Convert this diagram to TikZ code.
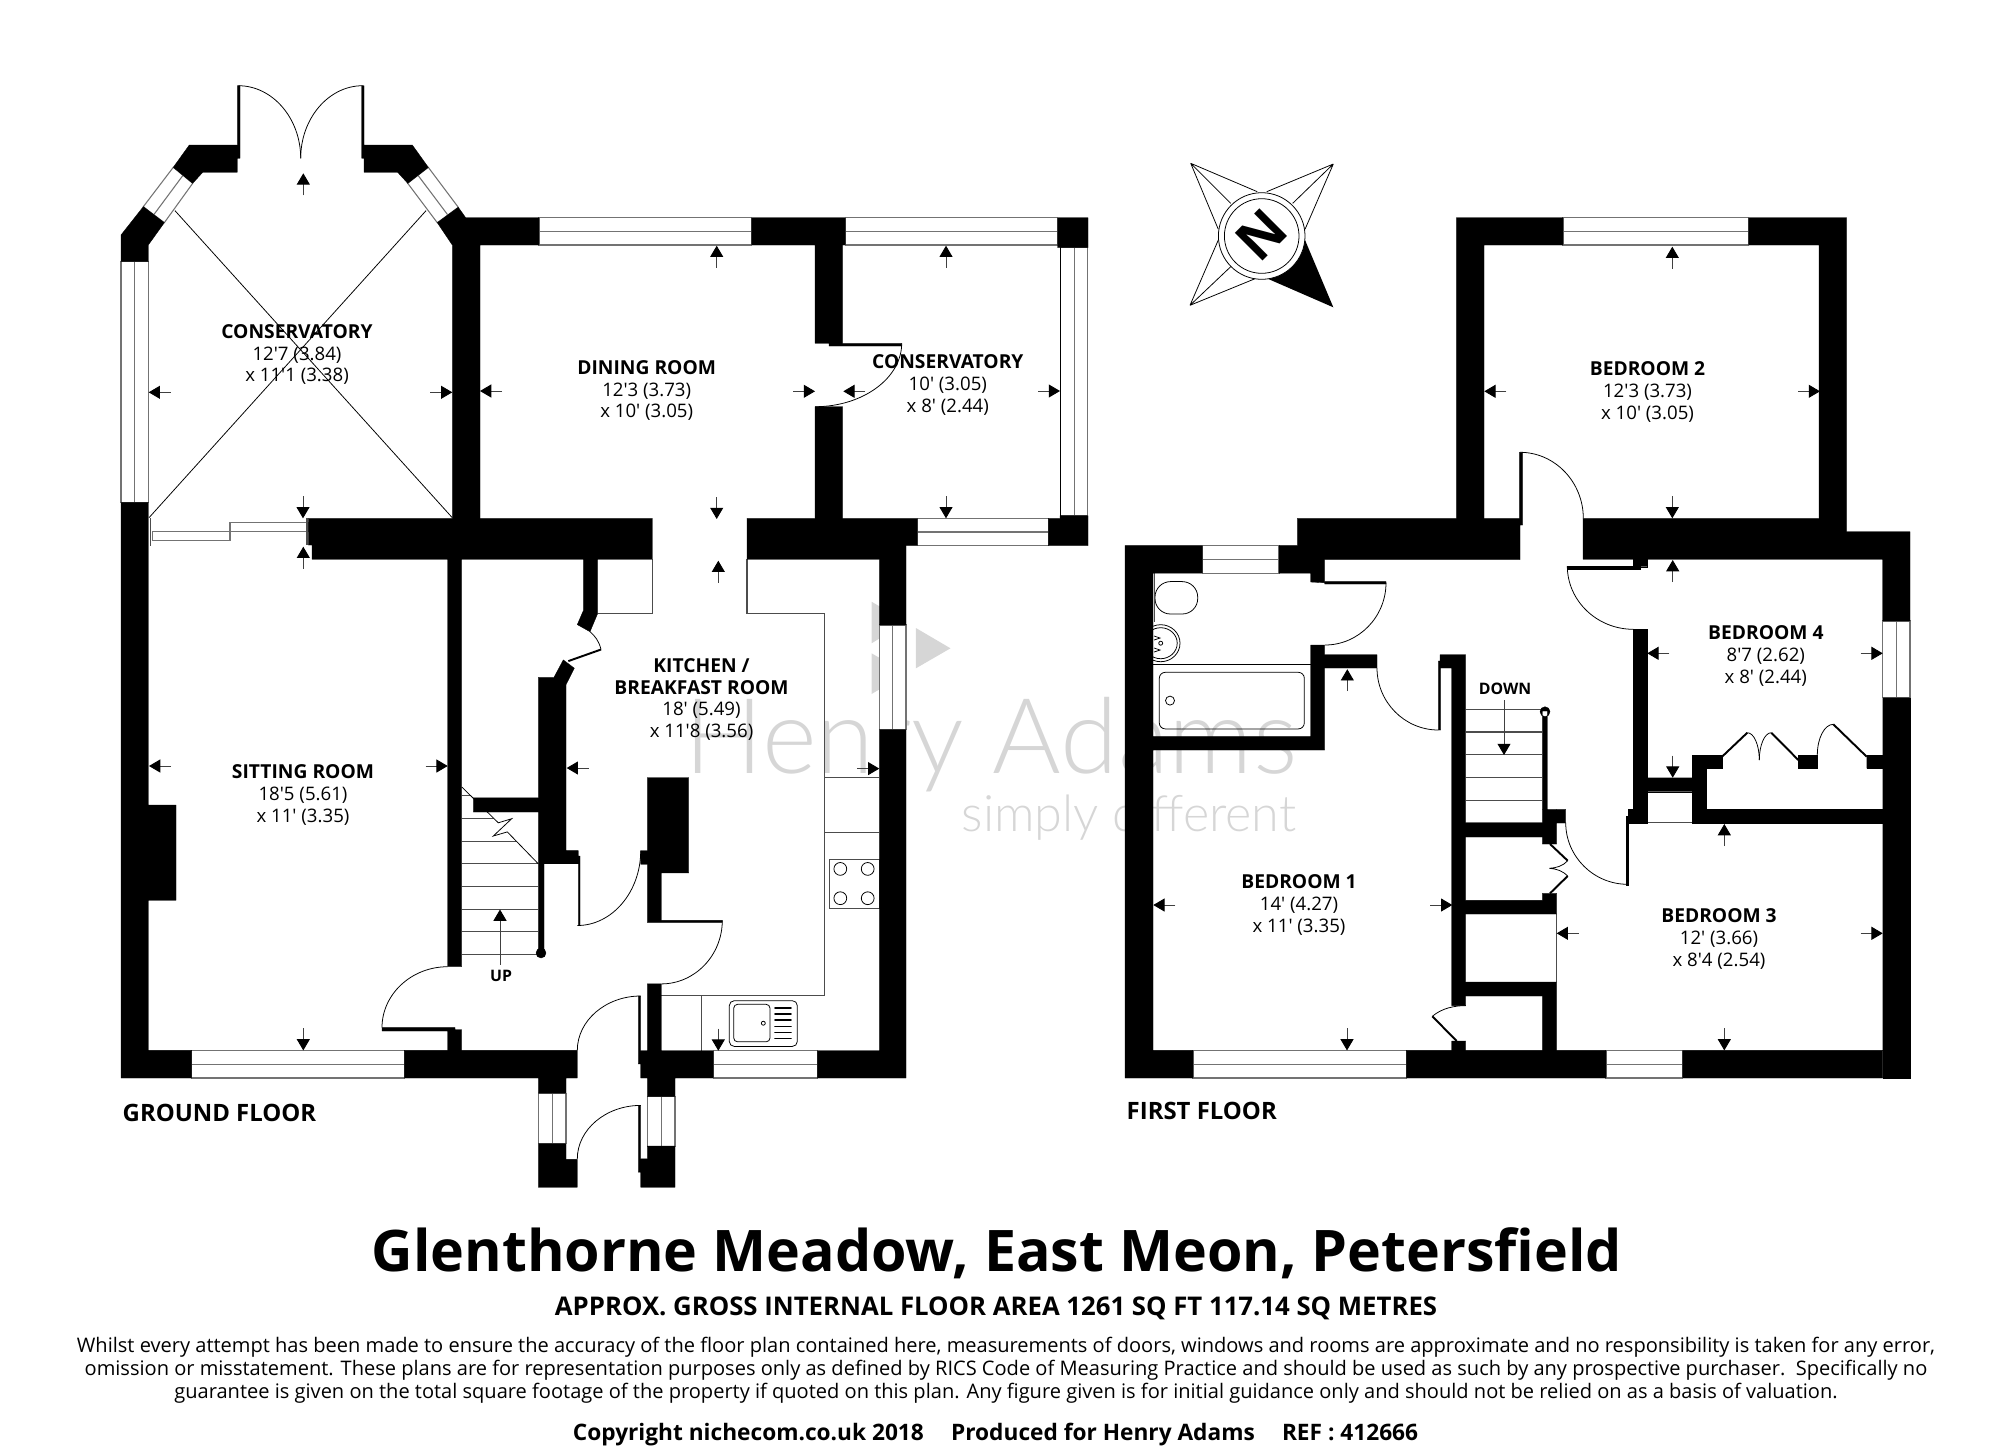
\documentclass[tikz,border=0pt]{standalone}
\usepackage{fontspec}
\setmainfont{Open Sans}[Ligatures=TeXOff]
\newfontfamily\markfont{Lato Light}
\usetikzlibrary{
	arrows.meta,
}
\definecolor{markgray}{HTML}{D6D6D6}
\tikzset{
	wall/.style={fill=black,draw=black,line width=.1pt},
	glass/.style={draw=black!55,fill=white,line width=.3pt},
	pane/.style={draw=black!55,line width=.35pt},
	fine/.style={draw=black,line width=.22pt},
	unit/.style={draw=black!70,line width=.3pt},
	leaf/.style={draw=black,line width=.55pt},
	dimarrow/.style={draw=black!75,line width=.25pt,-{Triangle[width=3.7pt,length=3.2pt,black]}},
	room/.style={align=center,inner sep=0pt,font=\fontsize{5.3}{6.25}\selectfont},
	floorname/.style={anchor=west,inner sep=0pt,font=\fontsize{6.8}{8}\selectfont\bfseries},
	stairname/.style={inner sep=0pt,font=\fontsize{4.5}{5}\selectfont\bfseries},
}
\newcommand{\swing}[4]{\draw[fine] (#1,#2) .. controls (#1,{#2+.55*(#4-#2)}) and ({#3+.55*(#1-#3)},#4) .. (#3,#4);}
\newcommand{\rname}[1]{{\fontsize{5.47}{6.25}\selectfont\bfseries #1}}
\begin{document}
\begin{tikzpicture}[x=.01cm,y=-.01cm]
\useasboundingbox (0,0) rectangle (2000,1448);

% watermark
\fill[markgray] (871.6,601.7) -- (906.3,622) -- (871.6,643.3) -- cycle
	(871.6,653.3) -- (906.3,673.3) -- (871.6,694) -- cycle
	(915.9,628) -- (950.5,648.3) -- (915.9,668.3) -- cycle;
\node[anchor=base west,inner sep=0pt,text=markgray,font=\fontsize{29.8}{30}\markfont] (markname) at (684,773) {Henry Adams};
\node[anchor=base east,inner sep=0pt,text=markgray,font=\fontsize{14.3}{15}\markfont] (marktag) at (1297,831.7) {simply different};

% fittings
\draw[fine] (175,210.7) -- (452.3,517.7) (426,210.7) -- (149,517.7);
\draw[unit] (747,559.3) -- (747,613.3) -- (824.5,613.3) -- (824.5,995.7) -- (661.3,995.7)
	(652.3,559.3) -- (652.3,613.3) -- (597.7,613.3)
	(824.5,777.5) -- (879.3,777.5) (824.5,832.1) -- (879.3,832.1)
	(701.7,995.7) -- (701.7,1050.7)
	(829.3,859.6) rectangle (879.3,908.9);
\foreach \x/\y in {840.3/868.9,867.7/868.9,840.3/898.2,867.7/898.2}
	\draw[fine] (\x,\y) circle[radius=6.4];
\draw[fine,rounded corners=1.4pt] (729.3,1000.7) rectangle (797.3,1046.4);
\draw[fine,rounded corners=1.1pt] (733.7,1004.3) rectangle (770,1041.8);
\draw[fine] (763.3,1023.2) circle[radius=2];
\foreach \y in {1007.9,1013.9,1020,1026.4,1032.5,1038.6}
	\draw[line width=.45pt,line cap=round] (775,\y) -- (791,\y);
\foreach \y in {795.9,818.7,841.5,863.8,886.7,909.5,931.8,954.6}
	\draw[unit] (461.7,\y) -- (538.3,\y);
\fill[white] (462,787.2) -- (498.3,822.8) -- (511.7,818.7) -- (493.3,836) -- (507.3,831.9) -- (538.3,863.8) -- (538.3,780) -- cycle;
\draw[fine] (462,787.2) -- (498.3,822.8) -- (511.7,818.7) -- (493.3,836) -- (507.3,831.9) -- (538.3,863.8);
\foreach \y in {709.4,732,754.5,777.5,800.5}
	\draw[unit] (1465.7,\y) -- (1542.3,\y);
\draw[fine,rounded corners=1.7pt] (1159.3,672.3) rectangle (1304.3,728.9);
\draw[fine] (1170,700.6) circle[radius=4.5];
\draw[fine] (1153,664.6) -- (1310.7,664.6);
\draw[fine,rounded corners=4.4pt] (1155,581.6) rectangle (1197.7,614);
\draw[unit] (1154.5,568) -- (1154.5,622);
\draw[fine] (1160.7,643.2) circle[x radius=19.3,y radius=18.5] (1160.7,643.2) circle[x radius=16.5,y radius=15.5]
	(1160.7,643.2) circle[radius=2]
	(1154,636) -- (1160,638) -- (1154,640) (1154,648) -- (1160,650) -- (1154,652);
\draw[unit] (1556.7,914) -- (1556.7,982) (1647.3,822.7) -- (1692,822.7);

% windows
\foreach \x/\X/\y/\Y in {539/751.7/217.7/245,845.3/1057.7/217.7/245,917.3/1048.3/518.3/545.7,
	191.7/404.3/1050.4/1078,713.3/817.3/1050.7/1078,1563/1748.7/217.7/245,1202.3/1279/545.6/573.1,
	1193/1406.3/1050.4/1078,1606/1682.7/1050.4/1078}
	\draw[glass] (\x,\y) rectangle (\X,\Y) (\x,{(\y+\Y)/2}) -- (\X,{(\y+\Y)/2});
\foreach \x/\X/\y/\Y in {121/148.3/261.7/502.3,1060.7/1087.7/247.7/515.7,879.3/906/625/729.5,
	538.3/566/1093.1/1143.7,647.3/675/1096.4/1146.1,1882.7/1910/621/697.7}
	\draw[glass] (\x,\y) rectangle (\X,\Y) ({(\x+\X)/2},\y) -- ({(\x+\X)/2},\Y);
\draw[glass] (173.3,167.3) -- (192.7,183.3) -- (164.3,222.7) -- (143.3,206.7) -- cycle (183,175.3) -- (153.8,214.7);
\draw[glass] (428.3,167.3) -- (407.7,183.3) -- (437.3,222.7) -- (458.3,207.3) -- cycle (418,175.3) -- (447.8,215);
\draw[pane] (230,522.7) rectangle (308.3,531.7) (152.3,531.7) rectangle (230,540.7);
\draw[unit] (150.3,518.3) -- (150.3,545.7) (307,518.3) -- (307,545);
\draw[fine] (1060,245) -- (1060,518.3);

% ground floor walls
\fill[wall]
	(189.3,145) -- (237.3,145) -- (237.3,85.7) -- (240,85.7) -- (240,158.3) -- (237.3,158.3) -- (237.3,172.3) -- (202.7,172.3) -- (192.7,183.3) -- (173.3,167.3) -- cycle
	(361.7,85.7) -- (364,85.7) -- (364,145) -- (412.3,145) -- (428.3,167.3) -- (407.7,183.3) -- (397.7,172.3) -- (364,172.3) -- (364,158.3) -- (361.7,158.3) -- cycle
	(143.3,206.7) -- (164.3,222.7) -- (148.3,245) -- (148.3,261.7) -- (121,261.7) -- (121,235) -- cycle
	(458.3,207.3) -- (465.7,217.7) -- (539,217.7) -- (539,245) -- (480,245) -- (480,518.3) -- (652.3,518.3) -- (652.3,559.3) -- (312,559.3) -- (312,545) -- (308.3,545) -- (308.3,518.3) -- (452.3,518.3) -- (452.3,245) -- (437.3,222.7) -- cycle
	(751.7,217.7) -- (845.3,217.7) -- (845.3,245) -- (842.7,245) -- (842.7,343.3) -- (901.7,343.3) -- (901.7,346) -- (829,346) -- (829,343.3) -- (815,343.3) -- (815,245) -- (751.7,245) -- cycle
	(815,406.7) rectangle (842.7,518.3)
	(747,518.3) -- (917.3,518.3) -- (917.3,545.7) -- (906,545.7) -- (906,625) -- (879.3,625) -- (879.3,559.3) -- (747,559.3) -- cycle
	(1048.3,518.3) -- (1060,518.3) -- (1060,515.7) -- (1088,515.7) -- (1088,545.7) -- (1048.3,545.7) -- cycle
	(1057.7,217.7) rectangle (1088,247.7)
	(879.3,729.5) rectangle (906,1078)
	(121,502.3) rectangle (148.3,1078)
	(148,805) rectangle (176,900.3)
	(148,1050.4) rectangle (191.7,1078)
	(404.3,1050.4) rectangle (577.3,1078)
	(447.7,559.3) rectangle (461.7,966.7)
	(447.7,1029.7) rectangle (461.7,1050.4)
	(382,1027.6) rectangle (455,1031)
	(473.3,797.9) rectangle (538.3,812)
	(583.3,559.3) -- (597.7,559.3) -- (597.7,613.4) -- (590,631.7) -- (577.3,624.6) -- (583.3,610.7) -- cycle
	(538.3,677.3) -- (554,677.3) -- (563.3,659.9) -- (574.3,668.2) -- (566,684.7) -- (566,850.6) -- (578.3,850.6) -- (578.3,863.8) -- (544,863.8) -- (544,952.2) -- (538.3,952.2) -- cycle
	(541,953) circle[radius=5]
	(578.3,856) rectangle (580,925.5)
	(640.7,850.7) -- (647.3,850.7) -- (647.3,777.5) -- (688.7,777.5) -- (688.7,872.9) -- (661.3,872.9) -- (661.3,920.4) -- (722.3,920.4) -- (722.3,922.4) -- (647.3,922.4) -- (647.3,864.3) -- (640.7,864.3) -- cycle
	(647.3,983.9) rectangle (661.3,1050.7)
	(640.7,1050.7) rectangle (713.3,1078)
	(817.3,1050.7) rectangle (906,1078)
	(638.3,996) rectangle (640.7,1063.9)
	(538.3,1078) rectangle (566,1093.1)
	(538.3,1143.7) -- (566,1143.7) -- (566,1159.4) -- (577.3,1159.4) -- (577.3,1187.3) -- (538.3,1187.3) -- cycle
	(647.3,1078) rectangle (675,1096.4)
	(647.3,1146.1) -- (675,1146.1) -- (675,1187.3) -- (640.7,1187.3) -- (640.7,1158.9) -- (647.3,1158.9) -- cycle
	(638.3,1105.4) rectangle (640.7,1172.1);
\draw[leaf] (568.3,661.1) -- (601,649.5);

% first floor walls
\fill[wall]
	(1456.3,217.7) -- (1563,217.7) -- (1563,245) -- (1484,245) -- (1484,518.3) -- (1519.3,518.3) -- (1519.3,452.3) -- (1522.7,452.3) -- (1522.7,525) -- (1520,525) -- (1520,559.7) -- (1324.7,559.7) -- (1324.7,582.7) -- (1310.7,582) -- (1310.7,573.1) -- (1279,573.1) -- (1279,545.6) -- (1297.3,545.6) -- (1297.3,518.3) -- (1456.3,518.3) -- cycle
	(1125,545.6) rectangle (1202.3,573.1)
	(1125,573) rectangle (1153,1078)
	(1153,736.6) rectangle (1310.7,750)
	(1310.7,645) rectangle (1324.7,750)
	(1324.7,654.7) rectangle (1377,668)
	(1324.7,581.6) rectangle (1386,584)
	(1440,654.7) -- (1465.7,654.7) -- (1465.7,1005.6) -- (1451.7,1005.6) -- (1451.7,668) -- (1440.7,668) -- (1440.7,730) -- (1438.3,730) -- (1438.3,661) -- (1440,661) -- cycle
	(1451.7,1041) rectangle (1465.7,1050.4)
	(1153,1050.4) rectangle (1193,1078)
	(1406.3,1050.4) rectangle (1606,1078)
	(1682.7,1050.4) rectangle (1882.7,1078)
	(1465.7,822.7) rectangle (1542.3,837)
	(1547.3,809.3) rectangle (1565.7,823)
	(1542.3,809.3) rectangle (1556.7,844)
	(1465.7,900.4) rectangle (1542.3,914)
	(1542.3,893.3) rectangle (1556.7,914)
	(1465.7,982) rectangle (1542.3,996)
	(1542.3,982) rectangle (1556.7,1050.4)
	(1542.3,711) rectangle (1547.3,809.3)
	(1545,711.7) circle[radius=5]
	(1748.7,217.7) -- (1846.7,217.7) -- (1846.7,531.7) -- (1910,531.7) -- (1910,621) -- (1882.7,621) -- (1882.7,559.3) -- (1583,559.3) -- (1583,518.3) -- (1819,518.3) -- (1819,245) -- (1748.7,245) -- cycle;
\fill[wall]
	(1633.3,559) rectangle (1647.3,566.7)
	(1567.3,566) rectangle (1640,569)
	(1882.7,697.7) rectangle (1910,1078)
	(1633.3,629.3) rectangle (1647.3,823)
	(1628.3,809.3) rectangle (1647.3,823)
	(1626,816) rectangle (1628.3,885)
	(1647.3,777.7) rectangle (1692,791.7)
	(1692,755) rectangle (1722,768.3)
	(1692,755) rectangle (1706,823)
	(1706,809.3) rectangle (1882.7,823)
	(1798.3,755) rectangle (1817.3,768.3)
	(1866.7,755) rectangle (1882.7,768.3);
\draw[leaf] (1722,756.7) -- (1747.3,732.7) (1798.3,760) -- (1771.3,732.7) (1866.7,756.7) -- (1833.3,724.3)
	(1550,844) -- (1567.7,860.7) (1550,893.3) -- (1567.7,876) (1456.7,1041) -- (1432.3,1016.3);

% door swings
\swing{300.7}{158.3}{238.3}{85.7}
\swing{300.7}{158.3}{362.7}{85.7}
\swing{901.7}{343.3}{815}{406.7}
\swing{382}{1027.6}{447.7}{966.7}
\swing{640.7}{850.7}{577.3}{925.5}
\swing{722.3}{920.4}{661.3}{983.9}
\swing{577.3}{1050.4}{640.7}{996}
\swing{577.3}{1158.9}{640.7}{1105.4}
\swing{1583.3}{518.3}{1520}{452.3}
\swing{1567.3}{566}{1633.3}{629.3}
\swing{1565.7}{822.7}{1627.7}{884.3}
\swing{1386}{582.7}{1325}{645}
\swing{1377}{668}{1438.3}{730}
\swing{1759.3}{760}{1747.3}{732.7}
\swing{1759.3}{760}{1771.3}{732.7}
\swing{1817.3}{755}{1833.3}{724.3}
\draw[fine] (601,649.5) .. controls (599,641) and (595,636) .. (590,631.7)
	(1432.3,1016.3) .. controls (1442,1008) and (1455,1005.6) .. (1465.7,1005.6)
	(1567.7,860.7) .. controls (1563,866) and (1556,868) .. (1549.3,868.3)
	(1567.7,876) .. controls (1563,871) and (1556,868.6) .. (1549.3,868.3);

% dimension arrows
\foreach \x/\y in {303.3/173.3,303.3/546.7,716.7/245.7,718.3/560.7,946/245.7,1672.3/246.7,1672.7/560,1347.3/669.2,1724.3/824}
	\draw[dimarrow] (\x,\y) ++(0,22) -- (\x,\y);
\foreach \x/\y in {303/518.3,716.7/519,946/518.3,303.3/1050.4,718.3/1050.7,1672.3/518.3,1672.7/777.7,1347/1050.4,1724.3/1050.4}
	\draw[dimarrow] (\x,\y) ++(0,-22) -- (\x,\y);
\foreach \x/\y in {148.7/392.3,480/391,843.3/391.3,149/766,566.7/768,1484.3/391.3,1647.3/653.3,1153.3/905,1556.7/933.3}
	\draw[dimarrow] (\x,\y) ++(22,0) -- (\x,\y);
\foreach \x/\y in {452.3/392.3,815/391.3,1060/391,447.7/766,879.3/768.6,1820/391.3,1882.7/653.3,1452.3/905,1882.7/933.3}
	\draw[dimarrow] (\x,\y) ++(-22,0) -- (\x,\y);
\draw[dimarrow] (500,964.6) -- (500,909.5);
\draw[dimarrow] (1504,700) -- (1504,755);

% compass
\fill (1305,240) -- (1333.3,307.3) -- (1266.7,278.3) -- cycle;
\draw[fine] (1190.7,163.3) -- (1257.3,191.7) (1190.7,163.3) -- (1218.3,229.3) (1190.7,163.3) -- (1230.7,203.3)
	(1333.3,164) -- (1266.7,191.7) (1333.3,164) -- (1305,229.3) (1333.3,164) -- (1292.7,203.3)
	(1190,305.3) -- (1256,278.3) (1190,305.3) -- (1218.3,240) (1190,305.3) -- (1230.7,266.7);
\draw[fine,fill=white] (1261.7,236) circle[radius=43.3];
\draw[fine] (1261.7,236) circle[radius=37.3];
\node[rotate=45,inner sep=0pt,font=\fontsize{15.6}{16}\selectfont\bfseries] (compassn) at (1261.7,235) {N};

% room labels
\node[room] (conservone) at (297,354.5) {\rname{CONSERVATORY}\\12'7 (3.84)\\x 11'1 (3.38)};
\node[room] (diningroom) at (646.7,390.5) {\rname{DINING ROOM}\\12'3 (3.73)\\x 10' (3.05)};
\node[room] (conservtwo) at (947.8,385) {\rname{CONSERVATORY}\\10' (3.05)\\x 8' (2.44)};
\node[room] (sittingroom) at (303,795) {\rname{SITTING ROOM}\\18'5 (5.61)\\x 11' (3.35)};
\node[room] (kitchen) at (701.5,699.5) {\rname{KITCHEN /}\\\rname{BREAKFAST ROOM}\\18' (5.49)\\x 11'8 (3.56)};
\node[room] (bedroomone) at (1299,905.3) {\rname{BEDROOM 1}\\14' (4.27)\\x 11' (3.35)};
\node[room] (bedroomtwo) at (1647.5,392) {\rname{BEDROOM 2}\\12'3 (3.73)\\x 10' (3.05)};
\node[room] (bedroomthree) at (1719,939.3) {\rname{BEDROOM 3}\\12' (3.66)\\x 8'4 (2.54)};
\node[room] (bedroomfour) at (1765.8,656) {\rname{BEDROOM 4}\\8'7 (2.62)\\x 8' (2.44)};
\node[stairname] (uplabel) at (501,976.2) {UP};
\node[stairname] (downlabel) at (1505,688.7) {DOWN};
\node[floorname] (groundfloor) at (122,1113) {GROUND FLOOR};
\node[floorname] (firstfloor) at (1126,1111) {FIRST FLOOR};

% footer
\node[anchor=base,inner sep=0pt,font=\fontsize{16.3}{18}\selectfont\bfseries] (address) at (997,1271.7) {Glenthorne Meadow, East Meon, Petersfield};
\node[anchor=base,inner sep=0pt,font=\fontsize{7.32}{8}\selectfont\bfseries] (floorarea) at (996,1315) {APPROX. GROSS INTERNAL FLOOR AREA 1261 SQ FT 117.14 SQ METRES};
\node[inner sep=0pt,align=center,font=\fontsize{5.7}{6.5}\selectfont] (disclaimer) at (1006,1370.5) {Whilst every attempt has been made to ensure the accuracy of the floor plan contained here, measurements of doors, windows and rooms are approximate and no responsibility is taken for any error,\\omission or misstatement. These plans are for representation purposes only as defined by RICS Code of Measuring Practice and should be used as such by any prospective purchaser.\ \ Specifically no\\guarantee is given on the total square footage of the property if quoted on this plan. Any figure given is for initial guidance only and should not be relied on as a basis of valuation.};
\node[anchor=base,inner sep=0pt,font=\fontsize{6.45}{7}\selectfont\bfseries] (copyright) at (995.5,1440) {Copyright nichecom.co.uk 2018\hspace{1.2em}Produced for Henry Adams\hspace{1.2em}REF : 412666};
\end{tikzpicture}
\end{document}
